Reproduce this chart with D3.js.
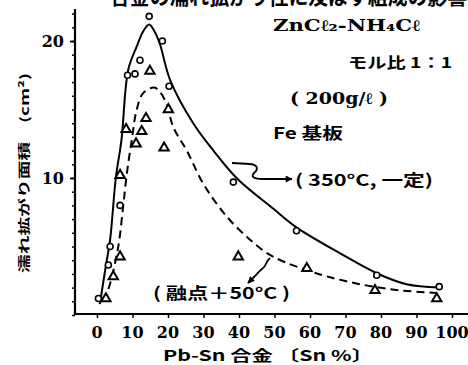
<!DOCTYPE html>
<html lang="ja">
<head>
<meta charset="utf-8">
<title>濡れ拡がり面積</title>
<script src="https://d3js.org/d3.v7.min.js"></script>
<style>
  body { margin: 0; background: #fff; }
  svg { display: block; }
  .jp { font-family: "Noto Sans CJK JP", sans-serif; font-weight: bold; }
  .num { font-family: "DejaVu Serif", serif; font-weight: bold; }
</style>
</head>
<body>
<svg id="chart" width="468" height="365"></svg>
<script>
// Sn % -> wetting area (cm2)
let xTicks = [0, 10, 20, 30, 40, 50, 60, 70, 80, 90, 100];
let yTicks = [10, 20];

// 350°C constant : open circles + solid curve
let circlePts = [
  [0.4, 1.2], [3.2, 3.65], [3.7, 5.0], [6.5, 8.0], [6.3, 10.2], [8.6, 17.5],
  [10.7, 17.6], [12.1, 18.6], [14.7, 21.8], [18.4, 20.0], [20.3, 16.7],
  [38.4, 9.7], [56.2, 6.15], [78.8, 2.9], [96.4, 2.07]
];
let solidCurve = [
  [0.8, 0.8], [2.5, 3.6], [3.7, 5.5], [5.3, 10.0], [6.9, 12.8], [8.8, 17.9],
  [11.2, 19.6], [13.0, 20.7], [14.7, 21.2], [16.2, 20.7], [17.7, 19.8],
  [20.6, 17.15], [27.1, 14.0], [32.8, 12.0], [39.3, 10.0], [49.7, 7.75],
  [56.2, 6.4], [68.5, 4.5], [78.8, 3.05], [87.2, 2.25], [96.4, 2.0]
];

// melting point + 50°C : open triangles + dashed curve
let trianglePts = [
  [2.5, 1.2], [4.6, 2.8], [6.5, 4.25], [6.5, 10.2], [8.2, 13.55], [11.0, 12.5],
  [12.6, 13.4], [13.8, 14.35], [14.9, 17.8], [18.9, 12.2], [20.1, 15.0],
  [39.8, 4.25], [59.1, 3.4], [78.3, 1.8], [95.7, 1.2]
];
let dashedCurve = [
  [2.0, 1.0], [3.7, 2.3], [6.0, 5.0], [7.4, 8.0], [8.4, 10.3], [9.8, 12.8],
  [11.2, 15.0], [13.0, 16.2], [16.1, 16.6], [17.7, 16.3], [19.6, 15.4],
  [21.5, 13.7], [25.3, 12.0], [29.9, 9.6], [36.5, 7.2], [43.1, 5.5],
  [48.0, 4.5], [53.0, 3.85], [60.0, 3.2], [65.0, 2.8], [71.3, 2.4],
  [77.8, 2.07], [85.4, 1.8], [95.7, 1.6]
];

let svg = d3.select('#chart');
let x = d3.scaleLinear().domain([0, 100]).range([97, 452]);
let y = d3.scaleLinear().domain([0, 20]).range([315, 41]);

// title line, cut off at the top of the picture
svg.append('text').attr('class', 'jp')
  .attr('x', 110).attr('y', 4)
  .attr('font-size', 21)
  .attr('textLength', 357).attr('lengthAdjust', 'spacingAndGlyphs')
  .text('合金の濡れ拡がり性に及ぼす組成の影響');

// axes
let xAxis = d3.axisBottom(x).tickValues(xTicks).tickSize(4).tickFormat('');
let gx = svg.append('g').attr('transform', 'translate(0,314)').call(xAxis);
gx.select('.domain').remove();
gx.selectAll('line').attr('stroke-width', 1.5);
svg.append('line').attr('x1', 74).attr('x2', 468).attr('y1', 314).attr('y2', 314)
  .attr('stroke', '#000').attr('stroke-width', 2.2);

let yMinor = d3.axisLeft(y).tickValues(d3.range(0, 23)).tickSize(3).tickFormat('');
let gy = svg.append('g').attr('transform', 'translate(75,0)').call(yMinor);
gy.select('.domain').remove();
gy.selectAll('line').attr('stroke-width', 1.5);
let gyMaj = svg.append('g').attr('transform', 'translate(75,0)')
  .call(d3.axisLeft(y).tickValues(yTicks).tickSize(5).tickFormat(''));
gyMaj.select('.domain').remove();
gyMaj.selectAll('line').attr('stroke-width', 1.8);
svg.append('line').attr('x1', 75).attr('x2', 75).attr('y1', 9).attr('y2', 315)
  .attr('stroke', '#000').attr('stroke-width', 2.2);

// tick labels
svg.selectAll('.xl').data(xTicks).enter().append('text')
  .attr('class', 'num')
  .attr('x', d => x(d)).attr('y', 338)
  .attr('text-anchor', 'middle').attr('font-size', 16)
  .text(d => d);
svg.selectAll('.yl').data(yTicks).enter().append('text')
  .attr('class', 'num')
  .attr('x', 64).attr('y', d => y(d) + 6)
  .attr('text-anchor', 'end').attr('font-size', 16)
  .text(d => d);

// axis titles
svg.append('text').attr('class', 'jp')
  .attr('x', 268).attr('y', 361)
  .attr('text-anchor', 'middle').attr('font-size', 15)
  .attr('textLength', 210).attr('lengthAdjust', 'spacingAndGlyphs')
  .text('Pb-Sn 合金 〔Sn %〕');
svg.append('text').attr('class', 'jp')
  .attr('transform', 'translate(29,273) rotate(-90)')
  .attr('font-size', 12)
  .attr('textLength', 200).attr('lengthAdjust', 'spacingAndGlyphs')
  .text('濡れ拡がり面積　(cm²)');

// curves
let line = d3.line().x(d => x(d[0])).y(d => y(d[1])).curve(d3.curveCatmullRom.alpha(0.5));
svg.append('path').datum(solidCurve)
  .attr('d', line).attr('fill', 'none')
  .attr('stroke', '#000').attr('stroke-width', 2);
svg.append('path').datum(dashedCurve)
  .attr('d', line).attr('fill', 'none')
  .attr('stroke', '#000').attr('stroke-width', 2)
  .attr('stroke-dasharray', '8,5');

// markers
svg.selectAll('.c').data(circlePts).enter().append('circle')
  .attr('cx', d => x(d[0])).attr('cy', d => y(d[1])).attr('r', 3)
  .attr('fill', '#fff').attr('stroke', '#000').attr('stroke-width', 1.6);
let tri = d3.symbol().type(d3.symbolTriangle).size(38);
svg.selectAll('.t').data(trianglePts).enter().append('path')
  .attr('d', tri)
  .attr('transform', d => `translate(${x(d[0])},${y(d[1])})`)
  .attr('fill', '#fff').attr('stroke', '#000').attr('stroke-width', 2);

// annotation arrows
let defs = svg.append('defs');
defs.append('marker').attr('id', 'ah')
  .attr('viewBox', '0 0 10 10').attr('refX', 9).attr('refY', 5)
  .attr('markerWidth', 9).attr('markerHeight', 7)
  .attr('markerUnits', 'userSpaceOnUse').attr('orient', 'auto')
  .append('path').attr('d', 'M0,0 L10,5 L0,10 Z').attr('fill', '#000');
svg.append('path')
  .attr('d', 'M232,163 L250,164 C259,165 258,170 254,173 C250,177 255,179 262,179 L292,179')
  .attr('fill', 'none').attr('stroke', '#000').attr('stroke-width', 1.8)
  .attr('marker-end', 'url(#ah)');
svg.append('path')
  .attr('d', 'M270,258 C265,262 267,266 262,269 C258,272 258,273 255,276 L248,283')
  .attr('fill', 'none').attr('stroke', '#000').attr('stroke-width', 1.8)
  .attr('marker-end', 'url(#ah)');

// annotations
let notes = [
  { t: 'ZnCℓ₂-NH₄Cℓ', x: 273, y: 31, w: 147, cls: 'num', fs: 16 },
  { t: 'モル比 1：1', x: 348, y: 68, w: 104, cls: 'jp', fs: 15 },
  { t: '( 200g/ℓ )', x: 290, y: 104, w: 98, cls: 'num', fs: 16 },
  { t: 'Fe 基板', x: 273, y: 139, w: 70, cls: 'jp', fs: 16 },
  { t: '( 350°C, 一定)', x: 295, y: 186, w: 138, cls: 'jp', fs: 16 },
  { t: '( 融点＋50°C )', x: 153, y: 299, w: 137, cls: 'jp', fs: 16 }
];
svg.selectAll('.note').data(notes).enter().append('text')
  .attr('class', d => d.cls)
  .attr('x', d => d.x).attr('y', d => d.y)
  .attr('font-size', d => d.fs)
  .attr('textLength', d => d.w).attr('lengthAdjust', 'spacingAndGlyphs')
  .text(d => d.t);
</script>
</body>
</html>
